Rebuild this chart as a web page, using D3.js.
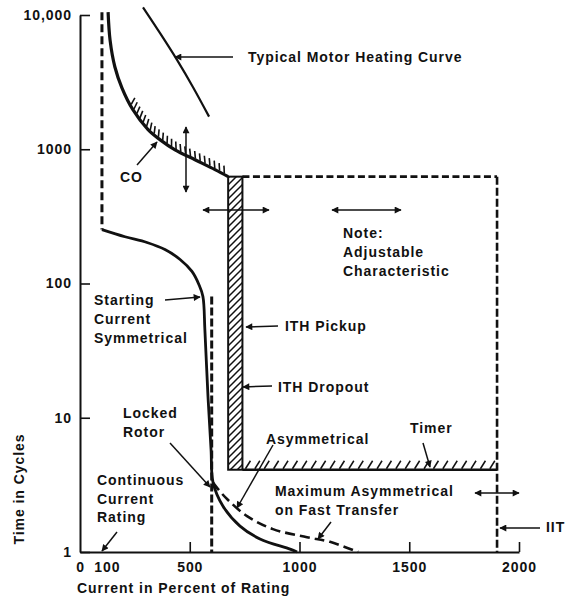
<!DOCTYPE html>
<html><head><meta charset="utf-8">
<script src="https://cdn.jsdelivr.net/npm/d3@7"></script>
<style>
body{margin:0;background:#fff;}
svg text{font-family:"Liberation Sans",Arial,Helvetica,sans-serif;font-weight:bold;font-size:14px;letter-spacing:0.95px;fill:#111;}
</style></head><body>
<svg id="c" width="570" height="603"></svg>
<script>
// ---- data ----
const xTickValues = [0, 100, 500, 1000, 1500, 2000];
const yTickValues = [1, 10, 100, 1000, 10000];
const yTickLabels = ["1", "10", "100", "1000", "10,000"];

// CO relay curve (percent, cycles)
const coCurve = [[128,10500],[137,6500],[159,4100],[191,2870],[241,1970],[310,1400],[364,1180],[433,990],[524,835],[615,705],[675,625]];
// Typical motor heating curve
const heatingCurve = [[287,11400],[364,7350],[442,4630],[515,2900],[588,1750]];
// Continuous current rating (dashed) then starting current symmetrical
const continuousLine = [[100,10500],[100,252]];
const startingCurve = [[100,252],[205,223],[305,202],[387,179],[456,151],[510,123],[542,98],[560,80],[569,45],[583,14.5],[597,5.8],[606,3.3],[651,2.2],[729,1.56],[820,1.25],[957,1.05],[989,1]];
// Maximum asymmetrical on fast transfer
const asymCurve = [[605,3.3],[629,2.94],[670,2.48],[761,1.85],[879,1.48],[1034,1.29],[1139,1.19],[1267,1.0]];
// Locked rotor current
const lockedRotor = [[600,80],[600,1]];
// ITH pickup band (percent range), timer and IIT settings
const ithBand = [675, 740];
const ithTime = 625;
const timerTime = 4.1;
const iitSetting = 1900;

// ---- chart ----
const svg = d3.select("#c");
const x = d3.scaleLinear().domain([0, 2000]).range([80, 519]);
const y = d3.scaleLog().domain([1, 10000]).range([552, 15]);
const ink = "#111";

const defs = svg.append("defs");
defs.append("marker").attr("id","ah").attr("viewBox","0 0 10 10").attr("refX",9).attr("refY",5)
  .attr("markerWidth",9).attr("markerHeight",7).attr("markerUnits","userSpaceOnUse")
  .attr("orient","auto-start-reverse")
  .append("path").attr("d","M0,0L10,5L0,10z").attr("fill",ink);
const pat = defs.append("pattern").attr("id","hatch").attr("patternUnits","userSpaceOnUse")
  .attr("width",7).attr("height",7);
pat.append("path").attr("d","M-1,1L1,-1M0,7L7,0M6,8L8,6").attr("stroke",ink).attr("stroke-width",1.5);

// axes
const gx = svg.append("g").attr("transform","translate(0,552)")
  .call(d3.axisBottom(x).tickValues(xTickValues).tickSizeInner(-10).tickSizeOuter(0).tickPadding(10).tickFormat(d3.format("d")));
gx.selectAll(".tick").filter(d => d < 500).select("line").remove();
gx.selectAll(".tick text").filter(d => d === 100).attr("dx", 5);
const gy = svg.append("g").attr("transform","translate(80,0)")
  .call(d3.axisLeft(y).tickValues(yTickValues).tickFormat((d,i)=>yTickLabels[i]).tickSizeInner(-10).tickSizeOuter(0).tickPadding(8));
[gx, gy].forEach(g => {
  g.select(".domain").attr("stroke", ink).attr("stroke-width", 2);
  g.selectAll(".tick line").attr("stroke", ink).attr("stroke-width", 1.6);
});

svg.append("text").attr("x",77).attr("y",593).text("Current in Percent of Rating");
svg.append("text").attr("transform","translate(24,489) rotate(-90)").attr("text-anchor","middle").text("Time in Cycles");

const line = d3.line().x(d => x(d[0])).y(d => y(d[1])).curve(d3.curveCatmullRom.alpha(0.5));
const straight = d3.line().x(d => x(d[0])).y(d => y(d[1]));

function draw(data, w, dash, gen) {
  return svg.append("path").attr("d", (gen || line)(data)).attr("fill","none")
    .attr("stroke", ink).attr("stroke-width", w).attr("stroke-dasharray", dash || null);
}

// ITH band
svg.append("rect").attr("x", x(ithBand[0])).attr("y", y(ithTime))
  .attr("width", x(ithBand[1]) - x(ithBand[0])).attr("height", y(timerTime) - y(ithTime))
  .attr("fill","url(#hatch)").attr("stroke", ink).attr("stroke-width", 2);

// Timer with hatching
draw([[ithBand[1], timerTime],[iitSetting, timerTime]], 2.6, null, straight);
const ty = y(timerTime);
d3.range(x(ithBand[1]) + 3, x(iitSetting) - 3, 9.4).forEach(px => {
  svg.append("line").attr("x1", px).attr("y1", ty - 1).attr("x2", px + 5).attr("y2", ty - 9)
    .attr("stroke", ink).attr("stroke-width", 1.5);
});

// dashed setting lines
draw([[ithBand[1], ithTime],[iitSetting, ithTime]], 2.6, "7,3.5", straight);
draw([[iitSetting, ithTime],[iitSetting, 1]], 2.6, "8,3", straight);

// curves
draw(continuousLine, 3, "8,4", straight);
draw(startingCurve, 2.8);
draw(lockedRotor, 3, "8,3", straight);
draw(asymCurve, 2.6, "10,5");
draw(heatingCurve, 2.2);
const co = draw(coCurve, 3.2);

// CO hatching on the upper side
const node = co.node(), L = node.getTotalLength();
for (let s = 0; s < L - 2; s += 5.4) {
  const p = node.getPointAtLength(s);
  if (x.invert(p.x) < 219) continue;
  const q = node.getPointAtLength(Math.min(L, s + 1));
  let tx = q.x - p.x, tyy = q.y - p.y; const m = Math.hypot(tx, tyy) || 1; tx /= m; tyy /= m;
  const nx = tyy, ny = -tx; // upper-right normal
  const a = 0.55, hx = nx * Math.cos(a) - tx * Math.sin(a), hy = ny * Math.cos(a) - tyy * Math.sin(a);
  svg.append("line").attr("x1", p.x + hx * 1.5).attr("y1", p.y + hy * 1.5)
    .attr("x2", p.x + hx * 9).attr("y2", p.y + hy * 9).attr("stroke", ink).attr("stroke-width", 1.6);
}

// annotations
const labels = [
  ["Typical Motor Heating Curve",248,62],["CO",120,182],
  ["Note:",343,238],["Adjustable",343,257],["Characteristic",343,276],
  ["Starting",94,305],["Current",94,324],["Symmetrical",94,343],
  ["ITH Pickup",285,331],["ITH Dropout",278,392],
  ["Locked",123,418],["Rotor",123,437],
  ["Asymmetrical",266,444],["Timer",410,433],
  ["Continuous",97,485],["Current",97,504],["Rating",97,522],
  ["Maximum Asymmetrical",275,496],["on Fast Transfer",275,515],["IIT",546,532]
];
labels.forEach(([t, lx, ly]) => svg.append("text").attr("x", lx).attr("y", ly).text(t));

const arrows = [
  [233,57,175,57],[137,165,157,142],[165,300,200,297],[278,326,246,327],[272,386,243,387],
  [170,443,210,487],[273,445,237,508],[423,443,430,467],[117,532,102,551],[331,522,318,539],[540,528,500,528]
];
arrows.forEach(([x1,y1,x2,y2]) => svg.append("line").attr("x1",x1).attr("y1",y1).attr("x2",x2).attr("y2",y2)
  .attr("stroke", ink).attr("stroke-width",1.5).attr("marker-end","url(#ah)"));
const dbl = [[186,127,186,192],[203,210,269,210],[332,210,401,210],[475,493,519,493]];
dbl.forEach(([x1,y1,x2,y2]) => svg.append("line").attr("x1",x1).attr("y1",y1).attr("x2",x2).attr("y2",y2)
  .attr("stroke", ink).attr("stroke-width",1.5).attr("marker-end","url(#ah)").attr("marker-start","url(#ah)"));
</script>
</body></html>
